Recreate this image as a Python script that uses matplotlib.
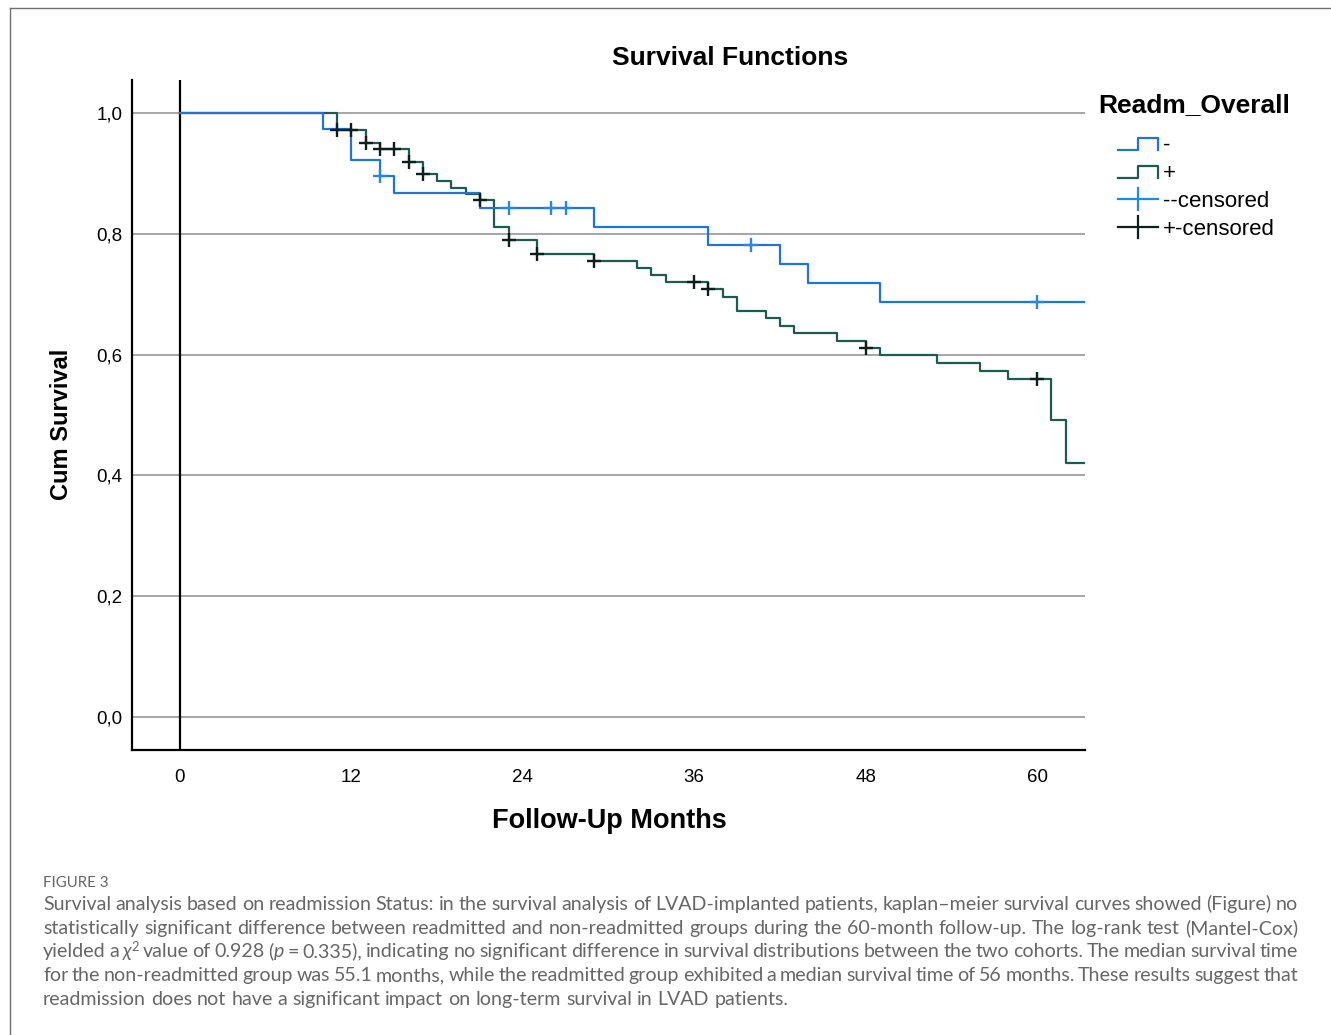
import re
import numpy as np
import matplotlib
matplotlib.use("Agg")
import matplotlib.pyplot as plt
from matplotlib.lines import Line2D
from matplotlib.legend_handler import HandlerBase

# ---------------- data ----------------
groups = ["-", "+"]
censor_labels = ["--censored", "+-censored"]

neg_times = [0, 10, 12, 14, 15, 21, 29, 37, 42, 44, 49]
neg_surv = [1.0, 0.974, 0.922, 0.896, 0.868, 0.842, 0.811, 0.781, 0.750, 0.719, 0.687]
neg_censor_times = [14, 23, 26, 27, 40, 60]

pos_times = [0, 11, 13, 14, 16, 17, 18, 19, 20, 21, 22, 23, 25, 29, 32, 33, 34,
             37, 38, 39, 41, 42, 43, 46, 48, 49, 53, 56, 58, 61, 62]
pos_surv = [1.0, 0.972, 0.951, 0.940, 0.919, 0.899, 0.888, 0.876, 0.866, 0.856,
            0.811, 0.789, 0.766, 0.755, 0.743, 0.732, 0.720, 0.709, 0.696, 0.672,
            0.660, 0.647, 0.635, 0.622, 0.611, 0.599, 0.586, 0.573, 0.560, 0.492, 0.420]
pos_censor_times = [11, 12, 13, 14, 15, 16, 17, 21, 23, 25, 29, 36, 37, 48, 60]

follow_up_end = 63.36

x_ticks = [0, 12, 24, 36, 48, 60]
x_ticklabels = ["0", "12", "24", "36", "48", "60"]
y_ticks = [0.0, 0.2, 0.4, 0.6, 0.8, 1.0]
y_ticklabels = ["0,0", "0,2", "0,4", "0,6", "0,8", "1,0"]

title = "Survival Functions"
x_label = "Follow-Up Months"
y_label = "Cum Survival"
legend_title = "Readm_Overall"

caption_head = "FIGURE 3"
caption_lines = [
    "Survival analysis based on readmission Status: in the survival analysis of LVAD-implanted patients, kaplan\u2013meier survival curves showed (Figure) no",
    "statistically significant difference between readmitted and non-readmitted groups during the 60-month follow-up. The log-rank test (Mantel-Cox)",
    "yielded a *\u03c7*^2^ value of 0.928 (*p* = 0.335), indicating no significant difference in survival distributions between the two cohorts. The median survival time",
    "for the non-readmitted group was 55.1 months, while the readmitted group exhibited a median survival time of 56 months. These results suggest that",
    "readmission does not have a significant impact on long-term survival in LVAD patients.",
]

# ---------------- styles ----------------
W, H = 1331, 1035
blue_line = "#1f74d8"
blue_cens = "#2a86e4"
green_line = "#1d5a50"
green_cens = "#0e1e1a"
grid_col = "#a6a6a6"
SANS = ["Liberation Sans", "DejaVu Sans"]
CAP = ["Lato", "Open Sans", "DejaVu Sans"]

def fx(px):
    return px / W

def fy(py):
    return 1 - py / H

fig = plt.figure(figsize=(W / 100, H / 100), dpi=100)
fig.patch.set_facecolor("white")

ax = fig.add_axes([fx(132), fy(750), fx(1085) - fx(132), fy(80) - fy(750)])
ax.set_xlim(-3.36, follow_up_end)
ax.set_ylim(-0.0546, 1.0546)


def step_xy(times, surv, end):
    return list(times) + [end], list(surv) + [surv[-1]]


def surv_at(times, surv, t):
    idx = np.searchsorted(times, t, side="right") - 1
    return np.asarray(surv)[idx]


for yv in y_ticks:
    ax.axhline(yv, color=grid_col, lw=1.4, zorder=1)
ax.axvline(0, color="black", lw=1.6, zorder=2)

gx, gy = step_xy(pos_times, pos_surv, follow_up_end)
ax.step(gx, gy, where="post", color=green_line, lw=1.6, zorder=3)
bx, by = step_xy(neg_times, neg_surv, follow_up_end)
ax.step(bx, by, where="post", color=blue_line, lw=1.6, zorder=4)

ax.plot(pos_censor_times, surv_at(pos_times, pos_surv, np.array(pos_censor_times)),
        ls="none", marker="+", ms=10, mew=1.7, color=green_cens, zorder=5)
ax.plot(neg_censor_times, surv_at(neg_times, neg_surv, np.array(neg_censor_times)),
        ls="none", marker="+", ms=10, mew=1.7, color=blue_cens, zorder=6)

for side in ["top", "right"]:
    ax.spines[side].set_visible(False)
for side in ["left", "bottom"]:
    ax.spines[side].set_linewidth(1.6)
    ax.spines[side].set_color("black")

ax.set_xticks(x_ticks)
ax.set_xticklabels(x_ticklabels, fontfamily=SANS, fontsize=13.5)
ax.set_yticks(y_ticks)
ax.set_yticklabels(y_ticklabels, fontfamily=SANS, fontsize=13.5)
ax.tick_params(axis="both", length=0)
ax.tick_params(axis="x", pad=14)
ax.tick_params(axis="y", pad=7)

fig.text(fx(730), fy(58), title, ha="center", va="center", fontsize=19,
         fontweight="bold", family=SANS)
fig.text(fx(609), fy(821), x_label, ha="center", va="center", fontsize=19.5,
         fontweight="bold", family=SANS)
fig.text(fx(62), fy(424), y_label, ha="center", va="center", rotation=90,
         fontsize=17, fontweight="bold", family=["Liberation Sans Narrow"] + SANS)


# ---------------- legend ----------------
HANDLE_FRAC = 40 / 62  # visible part of the handle box (right-aligned)


class StepHandler(HandlerBase):
    def create_artists(self, legend, orig_handle, xdescent, ydescent, width,
                       height, fontsize, trans):
        x0, y0 = -xdescent, -ydescent
        xa = x0 + width * (1 - HANDLE_FRAC)
        wv = width * HANDLE_FRAC
        lo, hi = y0 + 0.0 * height, y0 + 0.85 * height
        xs = [xa, xa + 0.5 * wv, xa + 0.5 * wv, xa + wv, xa + wv]
        ys = [lo, lo, hi, hi, lo]
        return [Line2D(xs, ys, color=orig_handle.get_color(),
                       lw=orig_handle.get_linewidth(), transform=trans)]


class CensorHandler(HandlerBase):
    def create_artists(self, legend, orig_handle, xdescent, ydescent, width,
                       height, fontsize, trans):
        x0, y0 = -xdescent, -ydescent
        xa = x0 + width * (1 - HANDLE_FRAC)
        wv = width * HANDLE_FRAC
        ym = y0 + height / 2
        h = Line2D([xa, xa + wv], [ym, ym], color=orig_handle.get_color(),
                   lw=orig_handle.get_linewidth(), transform=trans)
        v = Line2D([xa + wv / 2] * 2, [ym - 0.8 * height, ym + 0.8 * height],
                   color=orig_handle.get_color(), lw=orig_handle.get_linewidth(),
                   transform=trans)
        return [h, v]


class StepProxy(Line2D):
    pass


class CensorProxy(Line2D):
    pass


fig.text(fx(1098), fy(105), legend_title, ha="left", va="center", fontsize=19,
         fontweight="bold", family=SANS)

handles = [StepProxy([], [], color=blue_line, lw=1.6),
           StepProxy([], [], color=green_line, lw=1.6),
           CensorProxy([], [], color=blue_cens, lw=1.6),
           CensorProxy([], [], color=green_cens, lw=1.6)]
labels = groups + censor_labels
leg = fig.legend(handles, labels, loc="upper left",
                 bbox_to_anchor=(fx(1096), fy(135)), frameon=False,
                 handler_map={StepProxy: StepHandler(), CensorProxy: CensorHandler()},
                 prop={"family": SANS, "size": 16},
                 handlelength=62 / (16 * 100 / 72), handletextpad=0.22,
                 labelspacing=0.31, borderpad=0, borderaxespad=0, handleheight=0.55)

# ---------------- frame ----------------
fig.add_artist(Line2D([fx(10), fx(10)], [0, fy(8)], transform=fig.transFigure,
                      color="#707070", lw=1.0))
fig.add_artist(Line2D([fx(10), 1], [fy(8), fy(8)], transform=fig.transFigure,
                      color="#707070", lw=1.0))

# ---------------- caption ----------------
cap_col = "#666666"
fig.text(fx(43), fy(887), caption_head, ha="left", va="baseline", fontsize=10.8,
         family=CAP, color=cap_col)

renderer = fig.canvas.get_renderer()


def parse_word(word):
    segs = []
    for m in re.finditer(r"\*[^*]+\*|\^[^^]+\^|[^*^]+", word):
        s = m.group(0)
        if s.startswith("*"):
            segs.append((s[1:-1], "italic"))
        elif s.startswith("^"):
            segs.append((s[1:-1], "sup"))
        else:
            segs.append((s, "normal"))
    return segs


def make_text(x, y, s, kind, size):
    kw = dict(ha="left", va="baseline", color=cap_col, family=CAP)
    if kind == "italic":
        return fig.text(x, y, s, fontsize=size, style="italic", **kw)
    if kind == "sup":
        return fig.text(x, y, s, fontsize=size * 0.65, **kw)
    return fig.text(x, y, s, fontsize=size, **kw)


def width_px(s, kind, size):
    t = make_text(0, 0, s, kind, size)
    w = t.get_window_extent(renderer).width
    t.remove()
    return w


def word_width(word, size):
    return sum(width_px(s, k, size) for s, k in parse_word(word))


def line_natural(line, size):
    words = line.split(" ")
    sp = width_px("a a", "normal", size) - width_px("aa", "normal", size)
    return sum(word_width(w, size) for w in words) + sp * (len(words) - 1)


cap_size = 12.5
nat = line_natural(caption_lines[-1], cap_size)
cap_size = cap_size * (790 - 43) / nat

x_left, x_right = 43, 1298
baselines = [910, 933.7, 957.4, 981.1, 1004.8]
space_w = width_px("a a", "normal", cap_size) - width_px("aa", "normal", cap_size)
for i, line in enumerate(caption_lines):
    words = line.split(" ")
    widths = [word_width(w, cap_size) for w in words]
    if i < len(caption_lines) - 1 and len(words) > 1:
        gap = (x_right - x_left - sum(widths)) / (len(words) - 1)
    else:
        gap = space_w
    x = x_left
    for w, ww in zip(words, widths):
        xx = x
        for s, k in parse_word(w):
            dy = -6 if k == "sup" else 0
            make_text(fx(xx), fy(baselines[i] + dy), s, k, cap_size)
            xx += width_px(s, k, cap_size)
        x += ww + gap

fig.savefig("out.png", dpi=100, facecolor="white")
